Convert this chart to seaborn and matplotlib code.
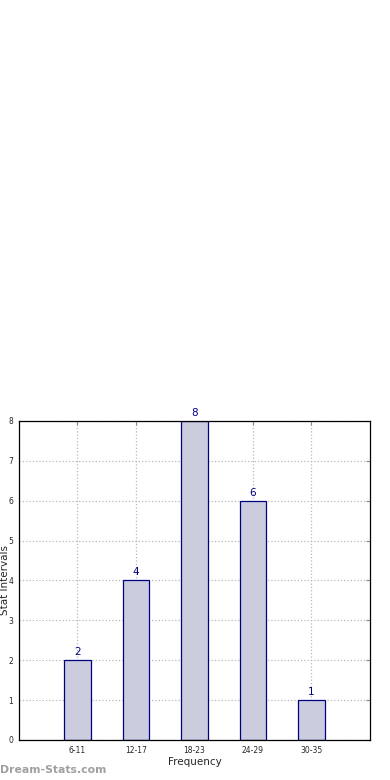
import matplotlib
matplotlib.use("Agg")
import pandas as pd
import matplotlib.pyplot as plt
import seaborn as sns

# Datos
intervalos = ["6-11", "12-17", "18-23", "24-29", "30-35"]
frecuencias = [2, 4, 8, 6, 1]

df = pd.DataFrame({"Intervalo": intervalos, "Frecuencia": frecuencias})

sns.set_style("white")
plt.rcParams["font.family"] = ["DejaVu Sans"]

fig = plt.figure(figsize=(3.9, 7.8), dpi=100)
ax = fig.add_axes([0.0487, 0.0513, 0.9, 0.409])

sns.barplot(data=df, x="Intervalo", y="Frecuencia", order=intervalos,
            color="#ccccdf", saturation=1, width=0.45,
            edgecolor="#000080", linewidth=0.9, ax=ax, zorder=2)

# Etiquetas encima de las barras
for i, v in enumerate(frecuencias):
    ax.text(i, v + 0.08, str(v), ha="center", va="bottom",
            color="#000080", fontsize=7.5)

ax.set_xlim(-1, 5)
ax.set_ylim(0, 8)
ax.set_yticks(range(0, 9))
ax.grid(True, linestyle=":", color="#b8b8b8", linewidth=0.9, zorder=0)
ax.set_axisbelow(True)
ax.tick_params(axis="both", direction="in", labelsize=5.5, length=3,
               top=True, right=True, color="#888888", pad=4)
for s in ax.spines.values():
    s.set_color("black")
    s.set_linewidth(0.9)

ax.set_xlabel("Frequency", fontsize=7.5, labelpad=2)
ax.set_ylabel("Stat Intervals", fontsize=7.5)
ax.yaxis.set_label_coords(-0.027, 0.5)

fig.text(0.0, 0.0128, "Dream-Stats.com", color="#a0a0a0", fontsize=7.8,
         fontweight="bold", ha="left", va="center")

fig.savefig("out.png", dpi=100)
